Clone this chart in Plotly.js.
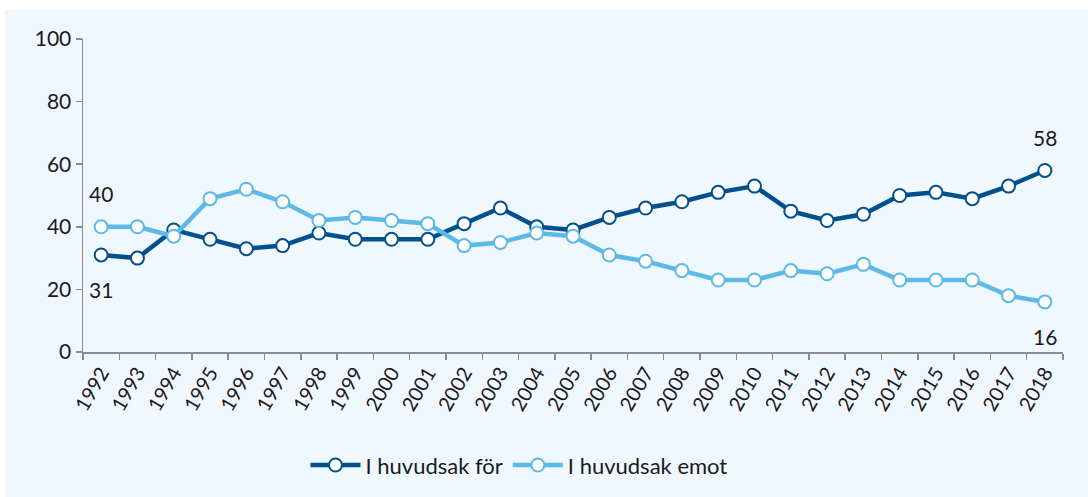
<!DOCTYPE html>
<html>
<head>
<meta charset="utf-8">
<script src="https://cdn.plot.ly/plotly-3.0.1.min.js"></script>
<style>
html,body{margin:0;padding:0;background:#ffffff;}
#wrap{position:absolute;left:5px;top:10px;width:1083px;height:487px;background:#F0F8FF;}
#chart{position:absolute;left:-5px;top:-10px;width:1088px;height:497px;}
</style>
</head>
<body>
<div id="wrap"><div id="chart"></div></div>
<script>
var years = ["1992","1993","1994","1995","1996","1997","1998","1999","2000","2001","2002","2003","2004","2005","2006","2007","2008","2009","2010","2011","2012","2013","2014","2015","2016","2017","2018"];
var forValues = [31,30,39,36,33,34,38,36,36,36,41,46,40,39,43,46,48,51,53,45,42,44,50,51,49,53,58];
var emotValues = [40,40,37,49,52,48,42,43,42,41,34,35,38,37,31,29,26,23,23,26,25,28,23,23,23,18,16];
var seriesNames = ["I huvudsak för","I huvudsak emot"];
var yTicks = [0,20,40,60,80,100];

var font = "Lato, 'Open Sans', sans-serif";
var dark = "#00508E";
var light = "#5DB9E7";

var traces = [
  {x: years, y: forValues, name: seriesNames[0], type: "scatter", mode: "lines+markers",
   line: {color: dark, width: 4.5}, marker: {size: 13, color: "#ffffff", line: {color: dark, width: 2}}},
  {x: years, y: emotValues, name: seriesNames[1], type: "scatter", mode: "lines+markers",
   line: {color: light, width: 4.5}, marker: {size: 13, color: "#ffffff", line: {color: light, width: 2}}}
];

var n = years.length;
function lab(i, y, shift) {
  return {xref: "x", yref: "y", x: i, y: y, text: String(y), showarrow: false, yshift: shift,
          font: {family: font, size: 21, color: "#1a1a1a"}};
}
var annotations = [
  lab(0, emotValues[0], 33),
  lab(0, forValues[0], -35),
  lab(n - 1, forValues[n-1], 33),
  lab(n - 1, emotValues[n-1], -35)
];

var layout = {
  width: 1088, height: 497,
  paper_bgcolor: "rgba(0,0,0,0)", plot_bgcolor: "rgba(0,0,0,0)",
  margin: {l: 83, r: 25, t: 39, b: 145, autoexpand: false},
  font: {family: font, color: "#1a1a1a"},
  showlegend: true,
  legend: {orientation: "h", xref: "container", yref: "container", x: 0.477, xanchor: "center",
           y: 0.064, yanchor: "middle",
           font: {family: font, size: 22, color: "#1a1a1a"}, traceorder: "normal", itemwidth: 50},
  xaxis: {type: "category", range: [-0.5, n - 0.5], tickson: "boundaries", ticks: "outside",
          ticklen: 6, tickcolor: "#8c8c8c", tickwidth: 1.5, showline: true, linecolor: "#8c8c8c", linewidth: 1.5,
          showgrid: false, tickangle: -60, tickfont: {family: font, size: 20, color: "#1a1a1a"}, fixedrange: true},
  yaxis: {range: [0, 100], tickvals: yTicks, ticks: "outside", ticklen: 6, tickcolor: "#8c8c8c", tickwidth: 1.5,
          showline: true, linecolor: "#8c8c8c", linewidth: 1.5, showgrid: false, zeroline: false,
          tickfont: {family: font, size: 21, color: "#1a1a1a"}, fixedrange: true},
  annotations: annotations
};

Plotly.newPlot("chart", traces, layout, {displayModeBar: false, staticPlot: true});
</script>
</body>
</html>
